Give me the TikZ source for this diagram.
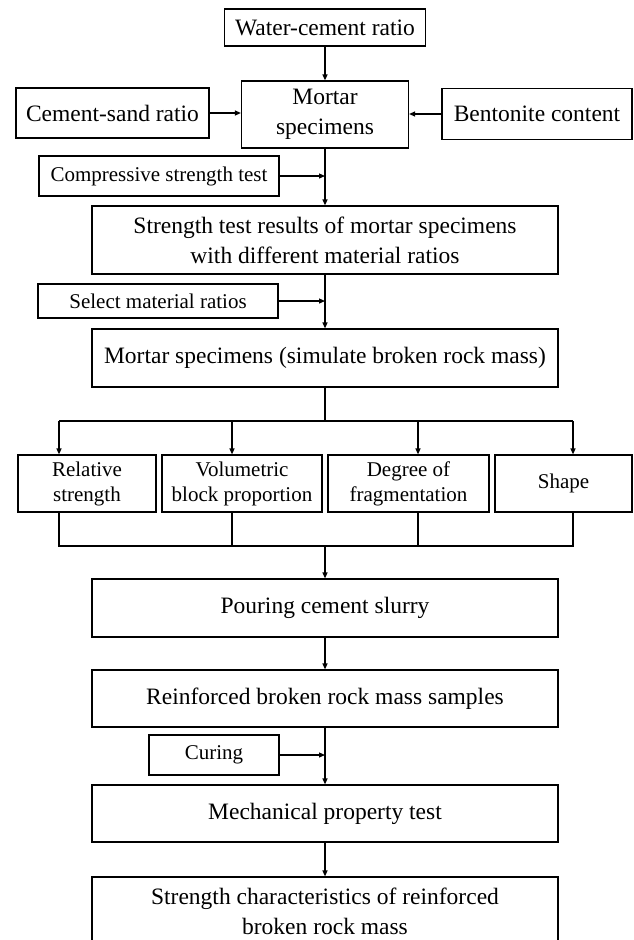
\documentclass[tikz,border=0pt]{standalone}
\usepackage{fontspec}
\setmainfont{Liberation Serif}
\usetikzlibrary{arrows.meta}
\begin{document}
\begin{tikzpicture}[x=1pt,y=-1pt,
  box/.style={draw,line width=1.2pt,inner sep=0pt,align=center,font=\fontsize{23.5}{30}\selectfont},
  sbox/.style={box,font=\fontsize{21}{25}\selectfont},
  arr/.style={line width=1.2pt,-{Triangle[length=6pt,width=5pt]}},
  ln/.style={line width=1.2pt}]
\useasboundingbox (0,0) rectangle (633,940);
\clip (0,0) rectangle (633,940);
% top
\node[box,minimum width=201pt,minimum height=37pt] (wc) at (325,27.5) {Water-cement ratio};
\node[box,minimum width=167pt,minimum height=67pt] (mortar) at (325,114.5) {Mortar\\specimens};
\node[box,minimum width=193pt,minimum height=50pt] (cs) at (112.5,113) {Cement-sand ratio};
\node[box,minimum width=190pt,minimum height=51pt] (bent) at (537,114) {Bentonite content};
\node[sbox,minimum width=240pt,minimum height=40pt] (comp) at (159,176) {Compressive strength test};
\node[box,minimum width=466pt,minimum height=68pt] (results) at (325,240) {Strength test results of mortar specimens\\with different material ratios};
\node[sbox,minimum width=240pt,minimum height=34pt] (select) at (158,301) {Select material ratios};
\node[box,minimum width=466pt,minimum height=58pt] (sim) at (325,358) {Mortar specimens (simulate broken rock mass)};
% four factors
\node[sbox,minimum width=138pt,minimum height=57pt] (rs) at (87,483.5) {Relative\\strength};
\node[sbox,minimum width=160pt,minimum height=57pt] (vb) at (242,483.5) {Volumetric\\block proportion};
\node[sbox,minimum width=161pt,minimum height=57pt] (df) at (408.5,483.5) {Degree of\\fragmentation};
\node[sbox,minimum width=137pt,minimum height=57pt] (sh) at (563.5,483.5) {Shape};
% lower chain
\node[box,minimum width=466pt,minimum height=58pt] (pour) at (325,608) {Pouring cement slurry};
\node[box,minimum width=466pt,minimum height=57pt] (reinf) at (325,698.5) {Reinforced broken rock mass samples};
\node[sbox,minimum width=130pt,minimum height=40pt] (curing) at (214,755) {Curing};
\node[box,minimum width=466pt,minimum height=57pt] (mech) at (325,813.5) {Mechanical property test};
\node[box,minimum width=466pt,minimum height=68pt] (sc) at (325,911) {Strength characteristics of reinforced\\broken rock mass};
% connectors
\draw[arr] (wc.south) -- (mortar.north);
\draw[arr] (cs.east) -- (cs.east -| mortar.west);
\draw[arr] (bent.west) -- (bent.west -| mortar.east);
\draw[arr] (mortar.south) -- (results.north);
\draw[arr] (comp.east) -- (comp.east -| mortar.south);
\draw[arr] (results.south) -- (sim.north);
\draw[arr] (select.east) -- (select.east -| results.south);
\coordinate (bc) at (325,421);
\coordinate (b1) at (59,421);
\coordinate (b2) at (232,421);
\coordinate (b3) at (418,421);
\coordinate (b4) at (573,421);
\coordinate (mc) at (325,546);
\draw[ln] (sim.south) -- (bc);
\draw[ln] (b1) -- (b4);
\draw[arr] (b1) -- (b1 |- rs.north);
\draw[arr] (b2) -- (b2 |- vb.north);
\draw[arr] (b3) -- (b3 |- df.north);
\draw[arr] (b4) -- (b4 |- sh.north);
\draw[ln] (rs.south -| b1) -- (b1 |- mc) -- (b4 |- mc) -- (sh.south -| b4);
\draw[ln] (vb.south -| b2) -- (b2 |- mc);
\draw[ln] (df.south -| b3) -- (b3 |- mc);
\draw[arr] (mc) -- (pour.north);
\draw[arr] (pour.south) -- (reinf.north);
\draw[arr] (reinf.south) -- (mech.north);
\draw[arr] (curing.east) -- (curing.east -| reinf.south);
\draw[arr] (mech.south) -- (sc.north);
\end{tikzpicture}
\end{document}
